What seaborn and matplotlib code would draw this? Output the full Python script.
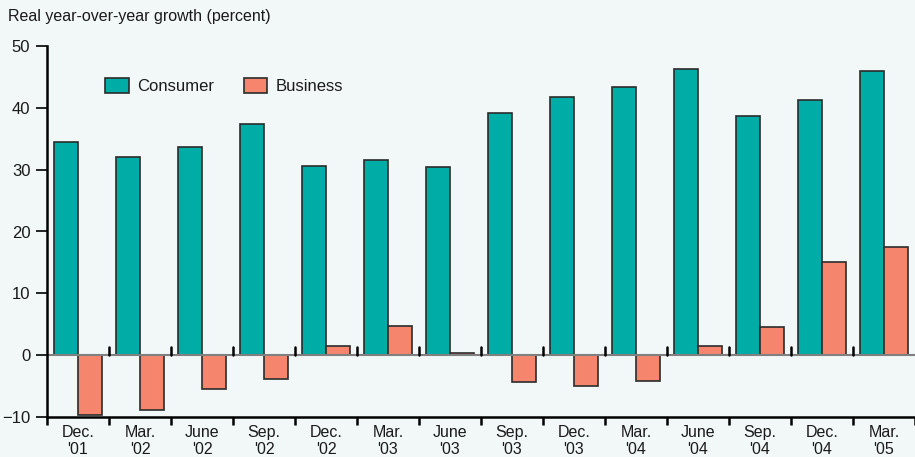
import numpy as np
import pandas as pd
import matplotlib
matplotlib.use("Agg")
import matplotlib.pyplot as plt
import seaborn as sns

periods = ["Dec.\n'01", "Mar.\n'02", "June\n'02", "Sep.\n'02", "Dec.\n'02", "Mar.\n'03", "June\n'03",
           "Sep.\n'03", "Dec.\n'03", "Mar.\n'04", "June\n'04", "Sep.\n'04", "Dec.\n'04", "Mar.\n'05"]
consumer = [34.4, 32.1, 33.7, 37.4, 30.6, 31.6, 30.5, 39.2, 41.8, 43.3, 46.2, 38.7, 41.3, 45.9]
business = [-9.6, -8.9, -5.5, -3.9, 1.5, 4.7, 0.3, -4.4, -5.0, -4.2, 1.5, 4.5, 15.1, 17.5]

df = pd.DataFrame({"period": periods * 2,
                   "value": consumer + business,
                   "series": ["Consumer"] * len(periods) + ["Business"] * len(periods)})

sns.set_style("ticks")
plt.rcParams['font.family'] = ['DejaVu Sans Condensed', 'Liberation Sans', 'DejaVu Sans']
plt.rcParams['text.color'] = '#1a1a1a'
plt.rcParams['xtick.labelcolor'] = '#1a1a1a'
plt.rcParams['ytick.labelcolor'] = '#1a1a1a'
bg = "#f1f8f7"

fig = plt.figure(figsize=(9.15, 4.57), dpi=100, facecolor=bg)
ax = fig.add_axes([47/915, 1 - 417/457, 1 - 47/915, 371/457], facecolor=bg)

sns.barplot(data=df, x="period", y="value", hue="series",
            palette={"Consumer": "#00aca6", "Business": "#f5866d"}, saturation=1,
            width=0.78, gap=0.04, edgecolor="#2b2b2b", linewidth=1.2,
            ax=ax, legend=True)

ax.set_xlim(-0.5, len(periods) - 0.5)
ax.set_ylim(-10, 50)
ax.set_yticks([-10, 0, 10, 20, 30, 40, 50])
ax.set_yticklabels(["\u221210", "0", "10", "20", "30", "40", "50"])
ax.axhline(0, color="#808080", lw=1.5, zorder=1)

# group boundary ticks on the bottom axis
ax.set_xticks(np.arange(len(periods)))
ax.set_xticklabels(periods, fontsize=11.5, linespacing=1.1)
ax.tick_params(axis="x", length=0, pad=6)
ax.set_xticks(np.arange(len(periods) + 1) - 0.5, minor=True)
ax.tick_params(axis="x", which="minor", length=6, width=1.8, color="black", direction="out")
ax.tick_params(axis="y", length=8, width=1.2, color="black", labelsize=12, pad=4)
# small ticks at the zero line
for b in np.arange(1, len(periods)) - 0.5:
    ax.plot([b, b], [0, 1.3], color="black", lw=1.8, zorder=1)

for s in ["top", "right"]:
    ax.spines[s].set_visible(False)
ax.spines["left"].set_linewidth(1.8)
ax.spines["left"].set_color("black")
ax.spines["bottom"].set_linewidth(1.8)
ax.spines["bottom"].set_color("black")
ax.set_xlabel("")
ax.set_ylabel("")

leg = ax.legend(loc="upper left", bbox_to_anchor=(0.05, 0.955), ncol=2, frameon=False,
                fontsize=12, handlelength=1.4, handleheight=1.0, columnspacing=1.8,
                handletextpad=0.5)

fig.text(8/915, 1 - 17/457, "Real year-over-year growth (percent)", fontsize=11.5, va="center", ha="left")

fig.savefig("out.png", dpi=100, facecolor=bg)
